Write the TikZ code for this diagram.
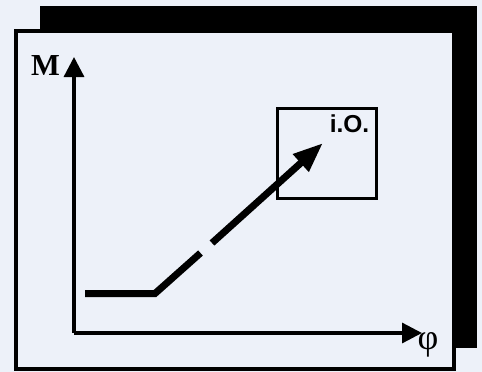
\documentclass[tikz,border=0pt]{standalone}
\usepackage{fontspec}
\newfontfamily\timesfont{Liberation Serif}
\newfontfamily\arialfont{Liberation Sans}
\usepackage{tikz}
\usetikzlibrary{arrows.meta}
\definecolor{paper}{RGB}{237,241,249}

\begin{document}
\begin{tikzpicture}[x=1pt,y=-1pt,
			axis/.style={line width=3.3pt,-{Triangle[length=20pt,width=20pt]}},
			curve/.style={line width=7pt},
			every node/.style={inner sep=0pt}]
			\useasboundingbox (0,0) rectangle (482,372);
			\fill[paper] (0,0) rectangle (482,372);
			% schatten und rahmen
			\fill[black] (40,6) rectangle (477,348);
			\draw[line width=4pt,fill=paper] (16,31) rectangle (454,369);
			
			\coordinate (O) at (74,333);
			\coordinate (ytip) at (74,57);
			\coordinate (xtip) at (422,333);
			\draw[axis] (O) -- (ytip);
			\draw[axis] (O) -- (xtip);
			\node (M) at (45.5,66) {\timesfont\fontsize{30.5}{30.5}\selectfont\bfseries M};
			\node (phi) at (428,345) {\timesfont\fontsize{36}{36}\selectfont φ};
			
			% kasten i.O.
			\node[draw,line width=3pt,minimum width=99pt,minimum height=90pt] (io) at (327.2,153.3) {};
			\node (iolabel) at (349.5,123.5) {\arialfont\fontsize{24.5}{24.5}\selectfont\bfseries i.O.};
			
			\coordinate (start) at (85,293.5);
			\coordinate (knick) at (155,293.5);
			\coordinate (gapA) at (200.5,253);
			\coordinate (gapB) at (212,243);
			\coordinate (ziel) at (323,143);
			\draw[curve] (start) -- (knick) -- (gapA);
			\draw[curve,-{Triangle[length=30pt,width=22pt]}] (gapB) -- (ziel);
		\end{tikzpicture}
\end{document}
